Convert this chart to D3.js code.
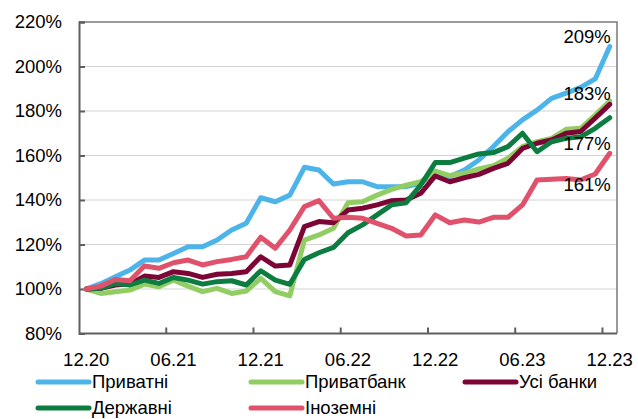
<!DOCTYPE html>
<html>
<head>
<meta charset="utf-8">
<script src="https://cdn.jsdelivr.net/npm/d3@7/dist/d3.min.js"></script>
<style>
  html, body { margin: 0; padding: 0; background: #fff; }
  svg { display: block; font-family: "Liberation Sans", Arial, sans-serif; }
</style>
</head>
<body>
<svg id="chart" width="638" height="419"></svg>
<script>
// Monthly periods, Dec 2020 – Dec 2023 (index, Dec 2020 = 100%)
const months = [
  "12.20","01.21","02.21","03.21","04.21","05.21","06.21","07.21","08.21","09.21","10.21","11.21",
  "12.21","01.22","02.22","03.22","04.22","05.22","06.22","07.22","08.22","09.22","10.22","11.22",
  "12.22","01.23","02.23","03.23","04.23","05.23","06.23","07.23","08.23","09.23","10.23","11.23","12.23"
];
const tickLabels = ["12.20","06.21","12.21","06.22","12.22","06.23","12.23"];
const yTicks = [80, 100, 120, 140, 160, 180, 200, 220];

const seriesNames = ["Приватні", "Приватбанк", "Усі банки", "Державні", "Іноземні"];

const privateBanks = [
  100, 102.4, 105.5, 108.5, 113, 113, 116, 119, 119, 122, 126.5, 129.6,
  141, 139.2, 142.2, 154.7, 153.5, 147.2, 148.2, 148.2, 146, 146, 146, 147.5,
  152.5, 150.5, 153.5, 158, 164, 170.7, 176, 180.4, 185.7, 188, 190.6, 194.4, 209
];
const privatBank = [
  100, 98, 98.8, 99.5, 102.2, 101, 104, 101.3, 98.8, 100.3, 98, 99.1,
  104.8, 98.8, 96.9, 122, 124.3, 127.3, 138.8, 139.2, 142.2, 144.8, 146.7, 148.2,
  153, 151, 152, 154, 155.4, 158.8, 164, 166.2, 167.7, 171.8, 172.2, 178.2, 184.5
];
const allBanks = [
  100, 100.3, 101.8, 102.2, 105.8, 105.2, 107.8, 107, 105.2, 106.6, 107, 107.8,
  114.5, 110.3, 110.8, 128, 130.3, 129.8, 135.5, 136.3, 137.8, 139.7, 140, 143,
  150.8, 148.2, 150, 151.5, 154.2, 156.5, 163.2, 165.5, 167, 170, 170.8, 176.8, 183
];
const stateBanks = [
  100, 100.3, 102.5, 101.8, 104, 102.5, 105.2, 104, 102.2, 103.3, 103.7, 101.8,
  108.2, 104, 102.1, 113.3, 116.3, 118.7, 125.3, 128.8, 133.3, 137.8, 138.8, 146.7,
  156.8, 156.8, 158.8, 160.7, 161.3, 164, 170, 161.7, 166.2, 167.7, 168.4, 172.2, 177
];
const foreignBanks = [
  100, 101.3, 104.3, 103.7, 110.3, 109.3, 111.8, 113, 110.8, 112.3, 113.3, 114.5,
  123.3, 118.3, 126.5, 137, 139.7, 131.8, 132.2, 131.8, 129.5, 127.3, 123.8, 124.3,
  133.3, 129.8, 131, 130.1, 132.2, 132.2, 137.8, 149, 149.3, 149.7, 149, 151.7, 161
];

const seriesValues = [privateBanks, privatBank, allBanks, stateBanks, foreignBanks];
const seriesColors = ["#4DB4E9", "#92CD64", "#7D0535", "#0C7C40", "#E0526B"];

// End-of-period value labels: series index, and vertical offset of the text
const endLabels = [
  { s: 0, dy: -3 },
  { s: 2, dy: -4 },
  { s: 3, dy: 32 },
  { s: 4, dy: 38 }
];

const svg = d3.select("#chart");
const margin = { left: 79, right: 21, top: 22, bottom: 85.5 };
const W = 638, H = 419;
const plotW = W - margin.left - margin.right;
const plotH = H - margin.top - margin.bottom;

const x = d3.scaleBand().domain(months).range([margin.left, margin.left + plotW]).padding(0);
const y = d3.scaleLinear().domain([80, 220]).range([margin.top + plotH, margin.top]);
const cx = m => x(m) + x.bandwidth() / 2;

const axisColor = "#5f5f5f";
const fontSize = 18.5;

// Horizontal gridlines
svg.append("g")
  .selectAll("line")
  .data(yTicks.filter(t => t > 80 && t < 220))
  .join("line")
  .attr("x1", margin.left).attr("x2", margin.left + plotW)
  .attr("y1", d => y(d)).attr("y2", d => y(d))
  .attr("stroke", "#d4d4d4").attr("stroke-width", 1.2);

// Frame: top and right edges
svg.append("path")
  .attr("d", `M${margin.left},${margin.top}H${margin.left + plotW}V${margin.top + plotH}`)
  .attr("fill", "none").attr("stroke", "#7a7a7a").attr("stroke-width", 1.5);

// Y axis with inward ticks
const yAxis = d3.axisLeft(y).tickValues(yTicks).tickFormat(d => d + "%").tickSize(-6).tickPadding(17);
const gy = svg.append("g").attr("transform", `translate(${margin.left},0)`).call(yAxis);
gy.select(".domain").attr("stroke", axisColor).attr("stroke-width", 2);
gy.selectAll(".tick line").attr("stroke", axisColor).attr("stroke-width", 2);
gy.selectAll(".tick text")
  .attr("font-size", fontSize).attr("fill", "#000")
  .attr("font-family", "Liberation Sans, Arial, sans-serif");

// X axis: labels every six months at the centre of the period, ticks on period boundaries
const gx = svg.append("g").attr("transform", `translate(0,${margin.top + plotH})`);
const boundaryTicks = months.filter((m, i) => i % 6 === 0 && i > 0).map(m => x(m));
boundaryTicks.push(x(months[months.length - 1]) + x.bandwidth() * 0);
gx.append("line")
  .attr("x1", margin.left).attr("x2", margin.left + plotW)
  .attr("stroke", axisColor).attr("stroke-width", 2);
gx.selectAll("line.tk")
  .data(months.filter((m, i) => i % 6 === 0 && i > 0))
  .join("line").attr("class", "tk")
  .attr("x1", d => x(d)).attr("x2", d => x(d))
  .attr("y1", 0).attr("y2", -6)
  .attr("stroke", axisColor).attr("stroke-width", 2);
gx.selectAll("text")
  .data(tickLabels)
  .join("text")
  .attr("x", d => cx(d)).attr("y", 32.5)
  .attr("text-anchor", "middle")
  .attr("font-size", fontSize).attr("fill", "#000")
  .text(d => d);

// Series lines
const line = d3.line()
  .x((d, i) => cx(months[i]))
  .y(d => y(d));

svg.append("g")
  .selectAll("path")
  .data(seriesValues)
  .join("path")
  .attr("d", d => line(d))
  .attr("fill", "none")
  .attr("stroke", (d, i) => seriesColors[i])
  .attr("stroke-width", 5)
  .attr("stroke-linejoin", "round")
  .attr("stroke-linecap", "round");

// End-of-period labels
const last = months[months.length - 1];
svg.append("g")
  .selectAll("text")
  .data(endLabels)
  .join("text")
  .attr("x", cx(last) + 1)
  .attr("y", d => y(seriesValues[d.s][seriesValues[d.s].length - 1]) + d.dy)
  .attr("text-anchor", "end")
  .attr("font-size", fontSize).attr("fill", "#000")
  .text(d => Math.round(seriesValues[d.s][seriesValues[d.s].length - 1]) + "%");

// Legend
const legendPos = [[36, 382], [249, 382], [463, 382], [36, 408], [249, 408]];
const lg = svg.append("g")
  .selectAll("g")
  .data(seriesNames)
  .join("g")
  .attr("transform", (d, i) => `translate(${legendPos[i][0]},${legendPos[i][1]})`);
lg.append("line")
  .attr("x1", 2).attr("x2", 53)
  .attr("stroke", (d, i) => seriesColors[i])
  .attr("stroke-width", 5).attr("stroke-linecap", "round");
lg.append("text")
  .attr("x", 56).attr("y", 0).attr("dy", "0.35em")
  .attr("font-size", fontSize).attr("fill", "#000")
  .text(d => d);
</script>
</body>
</html>
